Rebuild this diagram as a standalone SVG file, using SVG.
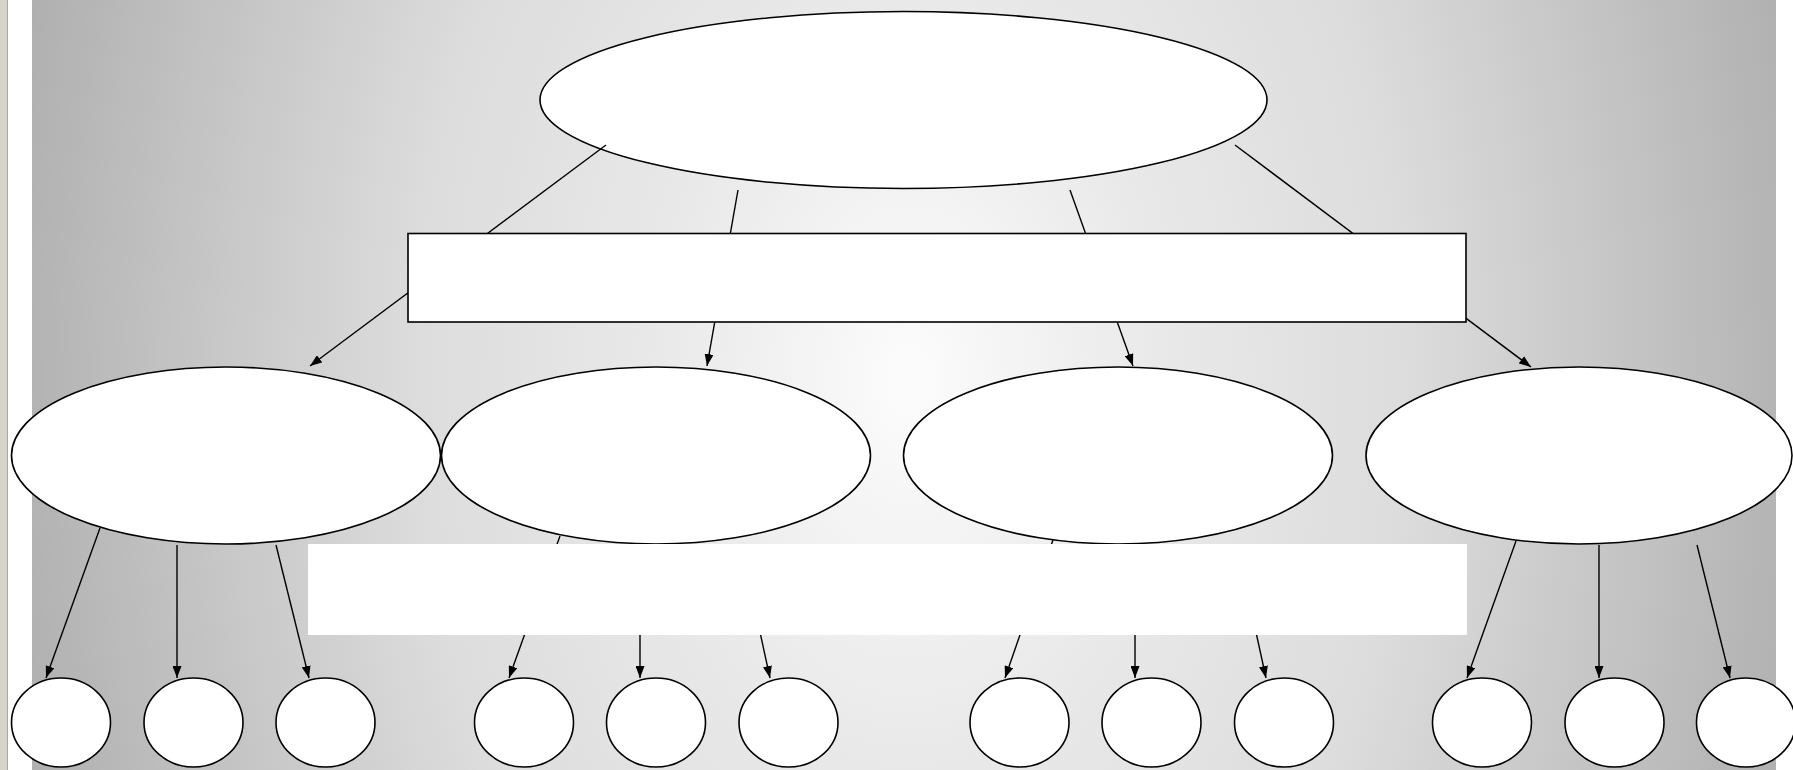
<svg xmlns="http://www.w3.org/2000/svg" width="1793" height="770" viewBox="0 0 1793 770">
<style>
.node{fill:#fff;stroke:#000;stroke-width:1.6}
.conn{stroke:#000;stroke-width:1.4;fill:none}
.arr{marker-end:url(#ah)}
</style>
<defs>
<radialGradient id="bg" gradientUnits="userSpaceOnUse" cx="0" cy="0" r="1" gradientTransform="translate(910 380) scale(1000 1500)">
<stop offset="0" stop-color="#fcfcfc"/>
<stop offset="0.25" stop-color="#e9e9e9"/>
<stop offset="0.5" stop-color="#dcdcdc"/>
<stop offset="0.9" stop-color="#b1b1b1"/>
<stop offset="1" stop-color="#a6a6a6"/>
</radialGradient>
<marker id="ah" markerUnits="userSpaceOnUse" markerWidth="13" markerHeight="9" refX="12" refY="4.5" orient="auto">
<path d="M0,0 L12,4.5 L0,9 z" fill="#000"/>
</marker>
</defs>
<rect x="0" y="0" width="1793" height="770" fill="#fff"/>
<rect x="0" y="0" width="8" height="770" fill="#d6d3cb"/>
<rect x="7" y="0" width="1" height="770" fill="#a9a7a0"/>
<rect x="32" y="0" width="1744" height="770" fill="url(#bg)"/>
<g id="root"><ellipse class="node" cx="903.5" cy="100" rx="363.5" ry="88.5"/></g>
<g id="connectors">
<line class="conn arr" x1="606" y1="145" x2="310" y2="366"/>
<line class="conn arr" x1="738" y1="190" x2="707" y2="366"/>
<line class="conn arr" x1="1070" y1="190" x2="1133" y2="366"/>
<line class="conn arr" x1="1235" y1="145" x2="1531" y2="367"/>
<line class="conn arr" x1="100" y1="528" x2="46" y2="678"/>
<line class="conn arr" x1="177" y1="545" x2="177" y2="678"/>
<line class="conn arr" x1="276" y1="545" x2="309" y2="678"/>
<line class="conn arr" x1="560" y1="536" x2="509" y2="678"/>
<line class="conn arr" x1="640" y1="550" x2="640" y2="678"/>
<line class="conn arr" x1="742" y1="550" x2="770" y2="678"/>
<line class="conn arr" x1="1053" y1="540" x2="1005" y2="678"/>
<line class="conn arr" x1="1135" y1="550" x2="1135" y2="678"/>
<line class="conn arr" x1="1238" y1="550" x2="1266" y2="678"/>
<line class="conn arr" x1="1516" y1="541" x2="1467" y2="678"/>
<line class="conn arr" x1="1599" y1="545" x2="1599" y2="678"/>
<line class="conn arr" x1="1697" y1="545" x2="1730" y2="678"/>
</g>
<g id="band"><rect class="node" x="408" y="233.5" width="1058" height="88.5"/></g>
<g id="mid1"><ellipse class="node" cx="226" cy="455.5" rx="214.5" ry="88.5"/></g>
<g id="mid2"><ellipse class="node" cx="656" cy="455.5" rx="214.5" ry="88.5"/></g>
<g id="mid3"><ellipse class="node" cx="1118" cy="455.5" rx="214.5" ry="88.5"/></g>
<g id="mid4"><ellipse class="node" cx="1579" cy="455.5" rx="213" ry="88.5"/></g>
<g id="cover"><rect x="308" y="544" width="1159" height="91" fill="#fff"/></g>
<g id="leaf1"><ellipse class="node" cx="61" cy="722.5" rx="49.5" ry="44.5"/></g>
<g id="leaf2"><ellipse class="node" cx="193.5" cy="722.5" rx="49.5" ry="44.5"/></g>
<g id="leaf3"><ellipse class="node" cx="325.5" cy="722.5" rx="49.5" ry="44.5"/></g>
<g id="leaf4"><ellipse class="node" cx="524" cy="722.5" rx="49.5" ry="44.5"/></g>
<g id="leaf5"><ellipse class="node" cx="656" cy="722.5" rx="49.5" ry="44.5"/></g>
<g id="leaf6"><ellipse class="node" cx="788.5" cy="722.5" rx="49.5" ry="44.5"/></g>
<g id="leaf7"><ellipse class="node" cx="1019.5" cy="722.5" rx="49.5" ry="44.5"/></g>
<g id="leaf8"><ellipse class="node" cx="1151.5" cy="722.5" rx="49.5" ry="44.5"/></g>
<g id="leaf9"><ellipse class="node" cx="1284" cy="722.5" rx="49.5" ry="44.5"/></g>
<g id="leaf10"><ellipse class="node" cx="1482" cy="722.5" rx="49.5" ry="44.5"/></g>
<g id="leaf11"><ellipse class="node" cx="1614.5" cy="722.5" rx="49.5" ry="44.5"/></g>
<g id="leaf12"><ellipse class="node" cx="1746" cy="722.5" rx="49.5" ry="44.5"/></g>
</svg>
